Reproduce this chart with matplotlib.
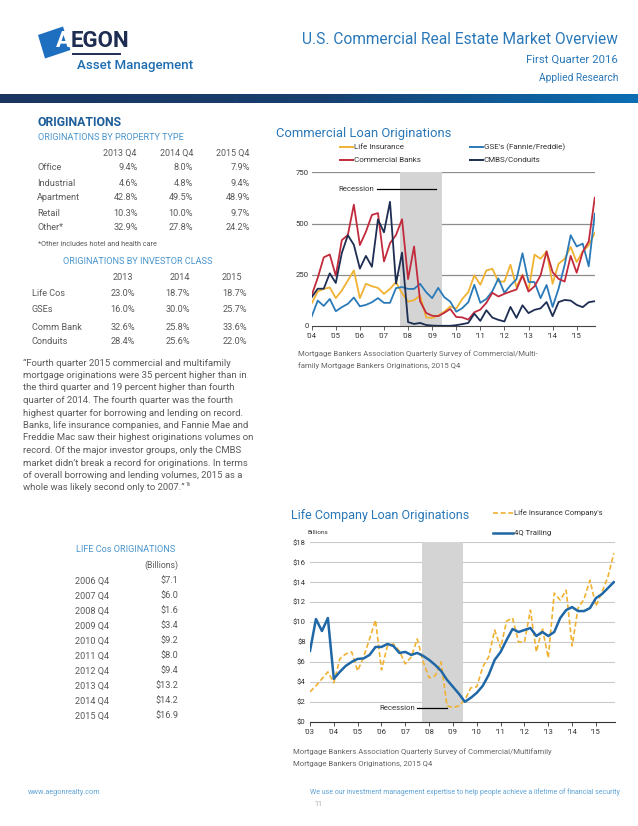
import numpy as np
import matplotlib
matplotlib.use("Agg")
import matplotlib.pyplot as plt
from matplotlib.lines import Line2D
from matplotlib.patches import Polygon
from matplotlib.colors import LinearSegmentedColormap

W, H = 638, 826

# ---- data ----
# Commercial loan originations, quarterly 2004 Q1 .. 2015 Q4 (index)
top_years = ["'04", "'05", "'06", "'07", "'08", "'09", "'10", "'11", "'12", "'13", "'14", "'15"]
life_ins = [110, 168, 181, 188, 136, 173, 222, 271, 136, 206, 194, 186,
            157, 181, 214, 160, 119, 126, 149, 42, 39, 51, 70, 95,
            85, 132, 165, 247, 201, 271, 279, 217, 217, 299, 190, 250,
            173, 348, 328, 364, 206, 304, 328, 386, 312, 364, 394, 454]
gse = [47, 124, 98, 132, 72, 92, 108, 139, 96, 103, 116, 136,
       113, 113, 185, 190, 181, 181, 206, 165, 136, 186, 141, 119,
       70, 87, 116, 201, 113, 132, 170, 232, 162, 198, 228, 355,
       215, 214, 136, 200, 93, 183, 298, 443, 388, 402, 291, 548]
banks = [150, 235, 335, 349, 245, 419, 444, 592, 395, 460, 542, 551,
         315, 404, 444, 521, 229, 388, 121, 64, 50, 48, 64, 83,
         44, 42, 31, 67, 80, 113, 162, 144, 157, 168, 178, 247,
         168, 194, 247, 364, 263, 230, 217, 342, 260, 361, 413, 626]
cmbs = [140, 182, 182, 257, 210, 356, 443, 396, 280, 342, 289, 520,
        457, 606, 207, 358, 19, 10, 15, 5, 2, 1, 1, 1,
        4, 9, 15, 60, 25, 77, 41, 30, 22, 93, 40, 101,
        63, 79, 86, 117, 48, 117, 127, 124, 103, 92, 116, 121]

# Life company loan originations ($ billions), quarterly 2003 Q1 .. 2015 Q4
bot_years = ["'03", "'04", "'05", "'06", "'07", "'08", "'09", "'10", "'11", "'12", "'13", "'14", "'15"]
life_co = [3.0, 3.6, 4.3, 5.0, 3.9, 6.3, 6.8, 7.0, 5.1, 6.5, 8.3, 10.2,
           5.2, 7.6, 7.8, 7.1, 5.8, 6.5, 8.3, 6.0, 4.4, 4.6, 6.0, 1.6,
           1.4, 1.6, 2.2, 3.4, 3.5, 5.5, 6.5, 9.2, 7.4, 10.1, 10.4, 8.0,
           8.0, 11.2, 7.0, 9.4, 6.4, 12.9, 12.2, 13.2, 7.6, 11.4, 12.3, 14.2,
           11.6, 13.0, 14.5, 16.9]
trailing = [7.1, 10.3, 9.1, 10.4, 4.3, 5.0, 5.6, 6.0, 6.3, 6.35, 6.7, 7.5,
            7.5, 7.8, 7.6, 6.9, 7.0, 6.7, 6.9, 6.6, 6.2, 5.7, 5.1, 4.2,
            3.5, 2.8, 2.0, 2.4, 2.9, 3.6, 4.7, 6.2, 7.0, 8.2, 9.3, 9.0,
            9.2, 9.4, 8.6, 9.0, 8.6, 9.0, 10.4, 11.2, 11.5, 11.1, 11.1, 11.4,
            12.4, 12.8, 13.4, 14.0]

prop_cols = ["2013 Q4", "2014 Q4", "2015 Q4"]
prop_rows = ["Office", "Industrial", "Apartment", "Retail", "Other*"]
prop_vals = [["9.4%", "8.0%", "7.9%"],
             ["4.6%", "4.8%", "9.4%"],
             ["42.8%", "49.5%", "48.9%"],
             ["10.3%", "10.0%", "9.7%"],
             ["32.9%", "27.8%", "24.2%"]]

inv_cols = ["2013", "2014", "2015"]
inv_rows = ["Life Cos", "GSEs", "Comm Bank", "Conduits"]
inv_vals = [["23.0%", "18.7%", "18.7%"],
            ["16.0%", "30.0%", "25.7%"],
            ["32.6%", "25.8%", "33.6%"],
            ["28.4%", "25.6%", "22.0%"]]

life_tab_rows = ["2006 Q4", "2007 Q4", "2008 Q4", "2009 Q4", "2010 Q4",
                 "2011 Q4", "2012 Q4", "2013 Q4", "2014 Q4", "2015 Q4"]
life_tab_vals = ["$7.1", "$6.0", "$1.6", "$3.4", "$9.2",
                 "$8.0", "$9.4", "$13.2", "$14.2", "$16.9"]

quote = [
    "\u201cFourth quarter 2015 commercial and multifamily",
    "mortgage originations were 35 percent higher than in",
    "the third quarter and 19 percent higher than fourth",
    "quarter of 2014. The fourth quarter was the fourth",
    "highest quarter for borrowing and lending on record.",
    "Banks, life insurance companies, and Fannie Mae and",
    "Freddie Mac saw their highest originations volumes on",
    "record. Of the major investor groups, only the CMBS",
    "market didn\u2019t break a record for originations. In terms",
    "of overall borrowing and lending volumes, 2015 as a",
    "whole was likely second only to 2007.\u201d",
]

# ---- colours ----
C_YEL = "#f0b232"
C_RED = "#c22b3d"
C_BLUE = "#2a7ab9"
C_NAVY = "#1e2d52"
C_TITLE = "#2b78b8"
C_SUB = "#4a95cd"
C_TXT = "#5a5a5a"
C_FOOT = "#5ea2d6"

plt.rcParams['font.family'] = ['Roboto', 'DejaVu Sans']

fig = plt.figure(figsize=(W / 100, H / 100), dpi=100)
fig.patch.set_facecolor("white")
renderer = fig.canvas.get_renderer()


def fx(x):
    return x / W


def fy(y):
    return 1 - y / H


def txt(x, y, s, size, color=C_TXT, ha="left", va="center", **kw):
    return fig.text(fx(x), fy(y), s, fontsize=size, color=color, ha=ha, va=va, **kw)


def right_px(t):
    # right edge of a text in page pixels
    return t.get_window_extent(renderer).x1


# ---- header ----
logo = Polygon([(fx(38), fy(35)), (fx(63), fy(26.5)), (fx(70.5), fy(50)), (fx(45), fy(58.5))],
               closed=True, transform=fig.transFigure, facecolor="#1f6fc0", edgecolor="none")
fig.patches.append(logo)
a_txt = txt(56, 41, "A", 16, color="white", weight="bold")
txt(right_px(a_txt) - 0.5, 41, "EGON", 16, color=C_NAVY, weight="bold")
fig.add_artist(Line2D([fx(73), fx(120)], [fy(54), fy(54)], color=C_NAVY, lw=1.4,
                      transform=fig.transFigure))
txt(77, 66, "Asset Management", 9.5, color="#1f6db1", weight="medium")

txt(618, 40, "U.S. Commercial Real Estate Market Overview", 11.2, color=C_TITLE, ha="right")
txt(618, 60, "First Quarter 2016", 8.2, color=C_TITLE, ha="right")
txt(618, 78, "Applied Research", 7.4, color=C_TITLE, ha="right")

bar = fig.add_axes([0, fy(103.5), 1, 9.5 / H])
grad = LinearSegmentedColormap.from_list("bar", ["#1b3560", "#173f6f", "#0b6fb4"])
bar.imshow(np.linspace(0, 1, 256)[None, :], cmap=grad, aspect="auto", extent=[0, 1, 0, 1])
bar.set_axis_off()

# ---- left column tables ----
txt(38, 123, "ORIGINATIONS", 8.8, color="#1d5d99", weight="bold")
txt(38, 137, "ORIGINATIONS BY PROPERTY TYPE", 6.6, color=C_SUB)
col_c = [120, 177, 233]
col_r = [138, 193, 250]
for c, s in zip(col_c, prop_cols):
    txt(c, 153, s, 6.4, ha="center")
for i, (lab, vals) in enumerate(zip(prop_rows, prop_vals)):
    y = 168 + i * 15
    txt(37, y, lab, 6.6)
    for r, v in zip(col_r, vals):
        txt(r, y, v, 6.6, ha="right")
txt(38, 244, "*Other includes hotel and health care", 5.2)

txt(138, 262, "ORIGINATIONS BY INVESTOR CLASS", 6.6, color=C_SUB, ha="center")
for c, s in zip([123, 180, 232], inv_cols):
    txt(c, 278, s, 6.6, ha="center")
inv_y = [293, 309, 327, 342]
for y, lab, vals in zip(inv_y, inv_rows, inv_vals):
    txt(32, y, lab, 6.6)
    for r, v in zip([135, 190, 247], vals):
        txt(r, y, v, 6.6, ha="right")

last = None
for i, line in enumerate(quote):
    last = txt(23, 363 + i * 12.5, line, 6.8)
txt(right_px(last) + 1, 484.5, "16", 3.4)

# life cos table
txt(76, 549, "LIFE Cos ORIGINATIONS", 6.6, color=C_SUB)
txt(178, 565, "(Billions)", 6.2, ha="right")
for i, (lab, v) in enumerate(zip(life_tab_rows, life_tab_vals)):
    y = 581 + i * 15
    txt(75, y, lab, 6.6)
    txt(178, y, v, 6.6, ha="right")

# ---- top chart ----
txt(276, 133, "Commercial Loan Originations", 9.4, color=C_TITLE)
legend_items = [(340, 147, C_YEL, "Life Insurance"), (340, 160, C_RED, "Commercial Banks"),
                (470, 147, C_BLUE, "GSE's (Fannie/Freddie)"), (470, 160, C_NAVY, "CMBS/Conduits")]
for x, y, col, lab in legend_items:
    fig.add_artist(Line2D([fx(x), fx(x + 13)], [fy(y), fy(y)], color=col, lw=1.4,
                          transform=fig.transFigure))
    txt(x + 14, y, lab, 5.8, color="#333333")

ax1 = fig.add_axes([fx(311.7), fy(326), (595 - 311.7) / W, (326 - 172.3) / H])
q1 = 2004 + np.arange(len(life_ins)) / 4
ax1.axvspan(2007.67, 2009.41, color="#d4d4d4", zorder=2, lw=0)
ax1.plot(q1, life_ins, color=C_YEL, lw=1.3, zorder=3)
ax1.plot(q1, gse, color=C_BLUE, lw=1.3, zorder=3)
ax1.plot(q1, banks, color=C_RED, lw=1.3, zorder=4)
ax1.plot(q1, cmbs, color=C_NAVY, lw=1.3, zorder=4)
ax1.set_xlim(2004, 2015.76)
ax1.set_ylim(0, 750)
ax1.set_yticks([0, 250, 500, 750])
for v in [250, 500, 750]:
    ax1.axhline(v, color="#8c8c8c", lw=0.9, zorder=1)
ax1.set_xticks(np.arange(2004, 2016))
ax1.set_xticklabels(top_years)
for s in ["top", "right", "left"]:
    ax1.spines[s].set_visible(False)
ax1.spines["bottom"].set_color("#444444")
ax1.spines["bottom"].set_linewidth(0.8)
ax1.tick_params(axis="x", length=3, width=0.6, color="#444444", labelsize=5.6,
                labelcolor="#333333", pad=2)
ax1.tick_params(axis="y", length=0, labelsize=5.6, labelcolor="#333333", pad=2)
ax1.set_facecolor("none")
ax1.text(2006.6, 667, "Recession", fontsize=5.6, color="#333333", ha="right", va="center")
ax1.plot([2006.71, 2009.16], [667, 667], color="black", lw=0.9, zorder=5)

txt(298, 354, "Mortgage Bankers Association Quarterly Survey of Commercial/Multi-", 5.6, color="#666666")
txt(298, 366, "family Mortgage Bankers Originations, 2015 Q4", 5.6, color="#666666")

# ---- bottom chart ----
txt(291, 515, "Life Company Loan Originations", 9.0, color=C_TITLE)
fig.add_artist(Line2D([fx(493), fx(513)], [fy(513), fy(513)], color=C_YEL, lw=1.2,
                      ls=(0, (3, 1.6)), transform=fig.transFigure))
txt(514, 513, "Life Insurance Company's", 5.6, color="#333333")
fig.add_artist(Line2D([fx(493), fx(513)], [fy(533), fy(533)], color="#1f67a6", lw=1.8,
                      transform=fig.transFigure))
txt(514, 533, "4Q Trailing", 5.6, color="#333333")
txt(308, 532, "Billions", 4.6, color="#333333")

ax2 = fig.add_axes([fx(310), fy(721.7), (615 - 310) / W, (721.7 - 542.3) / H])
q2 = 2003 + np.arange(len(life_co)) / 4
ax2.axvspan(2007.69, 2009.41, color="#d4d4d4", zorder=2, lw=0)
for v in range(2, 19, 2):
    ax2.axhline(v, color="#c9c9c9", lw=0.8, zorder=1)
ax2.plot(q2, life_co, color=C_YEL, lw=1.2, ls=(0, (3, 1.6)), zorder=3)
ax2.plot(q2, trailing, color="#1f67a6", lw=1.8, zorder=4)
ax2.set_xlim(2003, 2015.8)
ax2.set_ylim(0, 18)
ax2.set_yticks(range(0, 19, 2))
ax2.set_yticklabels(["$%d" % v for v in range(0, 19, 2)])
ax2.set_xticks(np.arange(2003, 2016))
ax2.set_xticklabels(bot_years)
for s in ["top", "right", "left"]:
    ax2.spines[s].set_visible(False)
ax2.spines["bottom"].set_color("#333333")
ax2.spines["bottom"].set_linewidth(0.8)
ax2.tick_params(axis="x", length=3, width=0.6, color="#333333", labelsize=5.6,
                labelcolor="#333333", pad=2)
ax2.tick_params(axis="y", length=0, labelsize=5.6, labelcolor="#333333", pad=3)
ax2.set_facecolor("none")
ax2.text(2007.42, 1.34, "Recession", fontsize=5.6, color="#333333", ha="right", va="center")
ax2.plot([2007.49, 2008.75], [1.34, 1.34], color="black", lw=0.9, zorder=5)

txt(293, 752, "Mortgage Bankers Association Quarterly Survey of Commercial/Multifamily", 5.6, color="#666666")
txt(293, 764, "Mortgage Bankers Originations, 2015 Q4", 5.6, color="#666666")

# ---- footer ----
txt(28, 792, "www.aegonrealty.com", 5.2, color=C_FOOT)
txt(620, 792, "We use our investment management expertise to help people achieve a lifetime of financial security",
    5.0, color=C_FOOT, ha="right")
txt(318, 805, "11", 5.2, color="#aaaaaa", ha="center")

fig.savefig("out.png", dpi=100, facecolor="white")
